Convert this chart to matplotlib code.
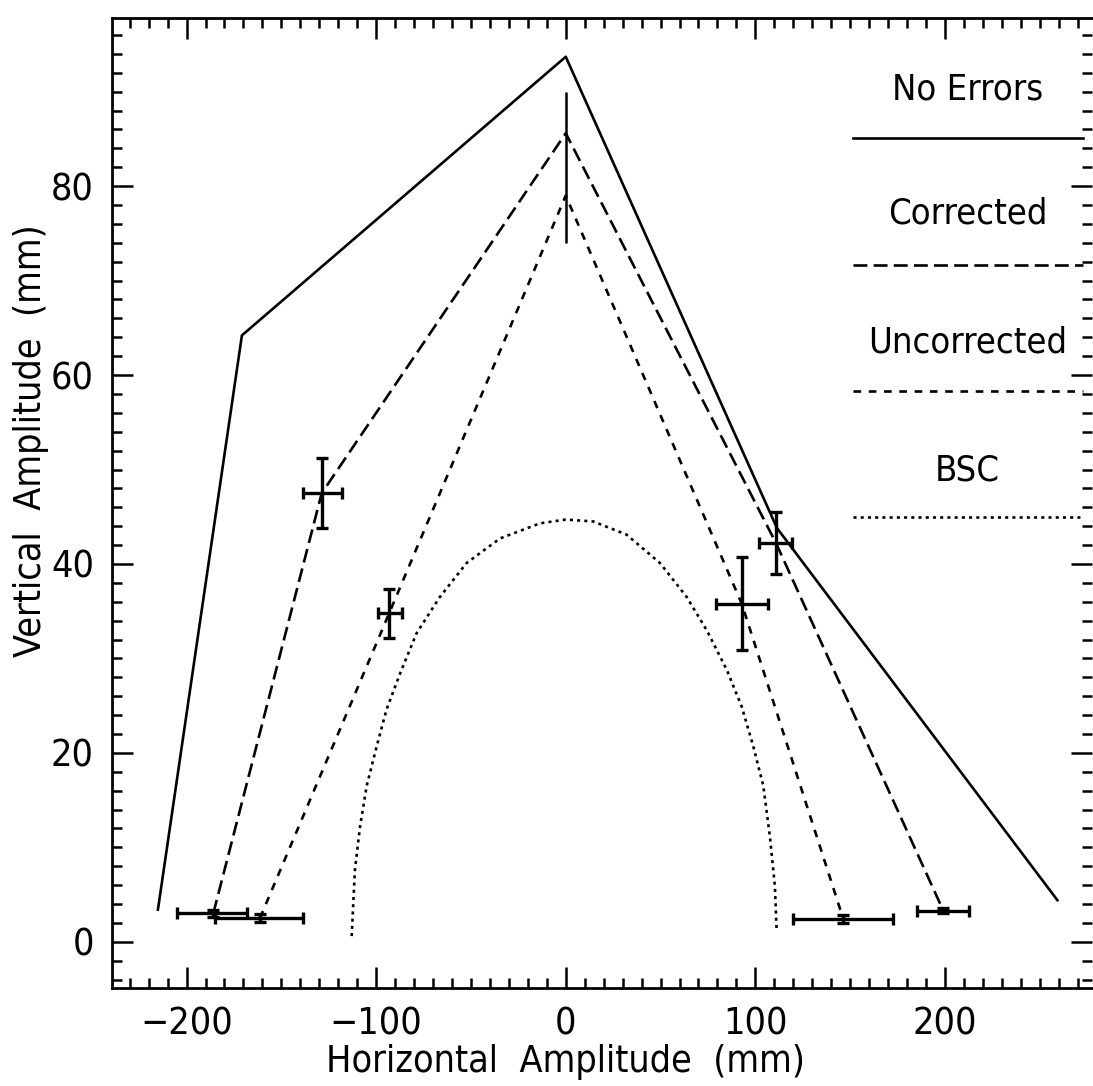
import numpy as np
import matplotlib.pyplot as plt
from matplotlib.lines import Line2D
from matplotlib.ticker import MultipleLocator

plt.rcParams['font.family'] = ['DejaVu Sans']
plt.rcParams['font.stretch'] = 'condensed'
plt.rcParams['lines.scale_dashes'] = False

# amplitude envelopes (mm)
noerr_x = [-215.1, -170.8, 0.0, 111.4, 259.3]
noerr_y = [3.4, 64.2, 93.7, 43.8, 4.4]

corr_x = [-185.9, -128.7, 0.0, 110.9, 199.1]
corr_y = [3.0, 47.5, 85.6, 42.2, 3.3]

uncorr_x = [-161.3, -93.1, 0.0, 92.8, 146.4]
uncorr_y = [2.5, 34.8, 79.0, 35.8, 2.4]

bsc_x = [-112.9, -111.2, -108.5, -105.0, -99.7, -94.5, -87.4, -78.6, -66.4,
         -52.3, -34.7, -13.6, 0.0, 14.5, 32.1, 49.7, 63.8, 74.3, 84.9, 92.8,
         98.9, 104.2, 107.7, 110.3, 111.2]
bsc_y = [0.6, 7.6, 12.2, 16.5, 20.7, 24.6, 28.4, 32.7, 36.5,
         40.1, 42.7, 44.3, 44.7, 44.5, 43.1, 40.1, 36.5, 33.0, 28.8, 24.9,
         20.7, 16.5, 11.1, 5.9, 1.3]

# measured points with errors (corrected / uncorrected)
corr_err_lo = [19.3, 9.8, 8.8, 14.0]
corr_err_hi = [17.6, 10.5, 8.2, 13.7]
corr_yerr = [0.4, 3.7, 3.25, 0.3]
corr_idx = [0, 1, 3, 4]

uncorr_err_lo = [23.7, 6.1, 13.6, 26.4]
uncorr_err_hi = [22.5, 6.5, 14.0, 26.3]
uncorr_yerr = [0.4, 2.6, 4.9, 0.4]
uncorr_idx = [0, 1, 3, 4]

# spread of the on-axis peak
peak_y = 82.0
peak_err = 8.0

labels = ['No Errors', 'Corrected', 'Uncorrected', 'BSC']

fig = plt.figure(figsize=(10.93, 10.86), dpi=100)
ax = fig.add_axes([0.1025, 0.0902, 0.8965, 0.8932])

ls_solid = '-'
ls_corr = (0, (10, 4.5))
ls_unc = (0, (5.5, 5.5))
ls_bsc = (0, (2.2, 3))
lw = 1.9

ax.plot(noerr_x, noerr_y, color='black', lw=lw, ls=ls_solid)
ax.plot(corr_x, corr_y, color='black', lw=lw, ls=ls_corr)
ax.plot(uncorr_x, uncorr_y, color='black', lw=lw, ls=ls_unc)
ax.plot(bsc_x, bsc_y, color='black', lw=lw, ls=ls_bsc)

cx = [corr_x[i] for i in corr_idx]
cy = [corr_y[i] for i in corr_idx]
ax.errorbar(cx, cy, xerr=[corr_err_lo, corr_err_hi], yerr=corr_yerr,
            fmt='none', ecolor='black', elinewidth=2.4, capsize=4.5, capthick=2.4)
ux = [uncorr_x[i] for i in uncorr_idx]
uy = [uncorr_y[i] for i in uncorr_idx]
ax.errorbar(ux, uy, xerr=[uncorr_err_lo, uncorr_err_hi], yerr=uncorr_yerr,
            fmt='none', ecolor='black', elinewidth=2.4, capsize=4.5, capthick=2.4)
ax.errorbar([0.0], [peak_y], yerr=[peak_err], fmt='none', ecolor='black',
            elinewidth=1.8, capsize=0)

ax.set_xlim(-239.3, 277.5)
ax.set_ylim(-4.9, 97.8)

ax.xaxis.set_major_locator(MultipleLocator(100))
ax.xaxis.set_minor_locator(MultipleLocator(10))
ax.yaxis.set_major_locator(MultipleLocator(20))
ax.yaxis.set_minor_locator(MultipleLocator(2))
ax.tick_params(which='both', direction='in', top=True, right=True,
               width=1.8, labelsize=27, colors='black')
ax.tick_params(which='major', length=15, pad=13)
ax.tick_params(which='minor', length=7)
for s in ['left', 'bottom', 'top']:
    ax.spines[s].set_linewidth(2.0)
ax.spines['right'].set_visible(False)

ax.set_xlabel('Horizontal  Amplitude  (mm)', fontsize=27, va='center')
ax.set_ylabel('Vertical  Amplitude  (mm)', fontsize=27, va='center')
ax.xaxis.set_label_coords(0.463, -0.0763)
ax.yaxis.set_label_coords(-0.083, 0.564)

# key drawn inside the frame on the right
key_styles = [ls_solid, ls_corr, ls_unc, ls_bsc]
line_y = [0.876, 0.745, 0.615, 0.486]
text_y = [0.926, 0.798, 0.665, 0.534]
for lab, ls, ly, ty in zip(labels, key_styles, line_y, text_y):
    ax.add_line(Line2D([0.756, 0.991], [ly, ly], transform=ax.transAxes,
                       color='black', lw=lw, ls=ls))
    ax.text(0.873, ty, lab, transform=ax.transAxes, ha='center', va='center',
            fontsize=26)

fig.savefig('out.png', dpi=100)
